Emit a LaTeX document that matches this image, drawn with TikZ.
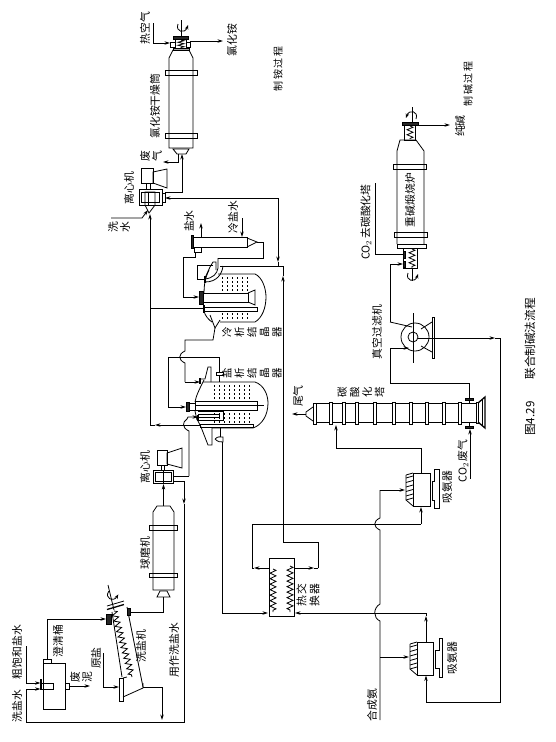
\documentclass[tikz,border=0pt]{standalone}
\usepackage{fontspec}
\setmainfont{Liberation Serif}
\newfontfamily\cjk{Noto Sans CJK SC}
\usetikzlibrary{arrows.meta,decorations.pathmorphing}
\tikzset{
  lab/.style={rotate=90,inner sep=0pt,align=center,font=\cjk\fontsize{10.8}{12}\selectfont},
  arr/.style={-{Stealth[length=5.5pt,width=3.4pt]}},
  dark/.style={fill=black!85},
  thick line/.style={line width=1.3pt},
  zz/.style={decorate,decoration={zigzag,segment length=5.5pt,amplitude=3pt}},
  liq/.style={line width=.4pt,dash pattern=on 1.6pt off 2.4pt},
  spin/.pic={\draw[line width=.8pt,-{Stealth[length=4.5pt,width=3.5pt]}] (-4,-3) .. controls (-7,5) and (3,7) .. (6,-2);}
}
\begin{document}
\begin{tikzpicture}[x=1pt,y=-1pt,line width=.8pt]
\useasboundingbox (0,0) rectangle (555,742);
% ---------- labels
\node[lab] (t1) at (17,652) {粗饱和盐水};
\node[lab] (t2) at (17,706) {洗盐水};
\node[lab] (t3) at (58,641) {澄清桶};
\node[lab,font=\cjk\fontsize{10.8}{12}\selectfont] (t4) at (81,677) {废\\泥};
\node[lab] (t5) at (96,658) {原盐};
\node[lab] (t6) at (141,646) {洗盐机};
\node[lab] (t7) at (174,650) {用作洗盐水};
\node[lab] (t8) at (145,553) {球磨机};
\node[lab] (t9) at (145,467) {离心机};
\node[lab] (t10) at (129,188) {离心机};
\node[lab] (t11) at (119,227) {洗\\水};
\node[lab] (t12) at (189,221) {盐水};
\node[lab] (t13) at (233,217) {冷盐水};
\node[lab] (t14) at (145,28) {热空气};
\node[lab] (t15) at (232,40) {氯化铵};
\node[lab] (t16) at (155,106) {氯化铵干燥筒};
\node[lab] (t17) at (151,156) {废\\气};
\node[lab,font=\cjk\fontsize{10}{11}\selectfont] (t18) at (278,69) {制\,铵\,过\,程};
\node[lab,font=\cjk\fontsize{10}{11}\selectfont] (t19) at (468,84) {制\,碱\,过\,程};
\node[lab] (t20) at (460,126) {纯碱};
\node[lab] (t21) at (410,200) {重碱煅烧炉};
\node[lab] (t22) at (366,222) {CO$_2$\,去碳酸化塔};
\node[lab] (t23) at (377,332) {真空过滤机};
\node[lab,font=\cjk\fontsize{10.5}{12.5}\selectfont] (t24) at (252,332) {冷\\析\\结\\晶\\器};
\node[lab,font=\cjk\fontsize{10.5}{12.5}\selectfont] (t25) at (252,373) {盐\\析\\结\\晶\\器};
\node[lab] (t26) at (298,396) {尾气};
\node[lab,font=\cjk\fontsize{10.5}{12.5}\selectfont] (t27) at (361,392) {碳\\酸\\化\\塔};
\node[lab] (t28) at (463,461) {CO$_2$\,废气};
\node[lab] (t29) at (447,487) {吸氨器};
\node[lab] (t30) at (452,658) {吸氨器};
\node[lab,font=\cjk\fontsize{10.8}{13}\selectfont] (t31) at (308,595) {热\,交\\换\,器};
\node[lab] (t32) at (372,705) {合成氨};
\node[lab,font=\cjk\fontsize{11.6}{13}\selectfont] (t33) at (530,367) {图4.29\hspace{22pt}联合制碱法流程};
% ---------- settling tank
\draw (43,663) rectangle (65,709);
\draw (43,659) rectangle (51,663);
\draw[thick line] (41,679) -- (41,690);
\draw (41,683) rectangle (53,689);
\draw (65,683) rectangle (69,689);
\coordinate (tankTop) at (47,659);
\coordinate (tankIn1) at (40.5,683);
\coordinate (tankIn2) at (40.5,689);
\coordinate (tankOut) at (69,686);
\coordinate (crude) at (26,646);
\coordinate (washW) at (26,722);
\draw[arr] (crude) |- (tankIn1);
\draw[arr] (washW) |- (tankIn2);
\coordinate (mudEnd) at (90,686);
\draw[arr] (tankOut) -- (mudEnd);
% ---------- salt washer
\draw[dark] (106,614) rectangle (111,624);
\draw (112,612) -- (122,677);
\draw (127,607) -- (143,687);
\draw[thick line] (107,609.5) -- (124,604.5);
\draw (107,606) -- (124,601);
\draw[dark] (127,608) rectangle (130,615);
\draw (108,585) -- (114,610);
\draw (119,678) rectangle (123,701);
\draw (123,697) -- (143,688) -- (143,683);
\draw (123,678) -- (127,677);
\draw[zz] (114,611) -- (132,677);
\pic[rotate=-13] at (112,595) {spin};
\coordinate (screwIn) at (106,619);
\coordinate (rawSalt) at (103,653);
\coordinate (washPlate) at (119,687);
\coordinate (washOut) at (143,687);
\coordinate (washDrop) at (162,720);
\coordinate (washTop) at (130,612);
\draw[arr] (tankTop) |- (screwIn);
\draw[arr] (rawSalt) |- (washPlate);
\draw[arr] (washOut) -| (washDrop);
% ---------- ball mill
\draw (153,590) -- (153,512) -- (157,506) -- (170,506) -- (174,512) -- (174,590) -- cycle;
\draw (149,525) rectangle (177,530);
\draw (149,573) rectangle (177,577);
\draw (157,597) -- (170,597) -- (167,591) -- (160,591) -- cycle;
\coordinate (millIn) at (163.5,597);
\coordinate (millOut) at (163.5,506);
\draw (washTop) -| (millIn);
% ---------- centrifuge lower
\draw (153,470) rectangle (173,483);
\draw (155,472) rectangle (171,481);
\draw (163,470) -- (163,483);
\draw (157,450) rectangle (167,465);
\draw (167,453) -- (182,448) -- (182,468) -- (167,464) -- cycle;
\draw (161,465) rectangle (164,470);
\draw[arr] (millOut) -- (163.5,484);
\coordinate (cfLout) at (173,476);
\coordinate (cfLret) at (173,481);
\coordinate (rinseM) at (184,504);
\draw[arr] (cfLret) -| (rinseM);
\draw (rinseM) |- (washW);
% ---------- salt crystallizer
\draw (203,382) -- (255,382) .. controls (264,385) and (268,395) .. (268,403) .. controls (268,415) and (262,425) .. (253,428) -- (212,428);
\draw (204,380) .. controls (199,390) and (196,396) .. (195,402);
\draw (195,411) -- (197,420);
\draw (198,421) -- (201,427) -- (208,445) -- (212,445) -- (212,428);
\draw (195,401) rectangle (257,410);
\draw[thick line] (195,405.5) -- (264,405.5);
\draw[dark] (186,402) rectangle (189,411);
\draw (189,403) rectangle (195,410);
\draw (200,424) rectangle (253,427);
\draw (198,411) -- (223,411) -- (223,420) -- (198,420);
\draw (198,414) -- (219,414) -- (219,417) -- (198,417);
\draw[thick line] (198,414.5) -- (198,421);
\draw (200,379) -- (205,379) -- (208,367) -- (211,367) -- (211,382);
\draw[thick line] (200,378) -- (200,384);
\draw (216,372) rectangle (223,375);
\draw (219,375) -- (219,382);
\draw (220,428) -- (220,437);
\draw (215,439) .. controls (218,436) and (220,437) .. (223,437) -- (223,442) .. controls (220,442) and (218,442) .. (215,439);
\foreach \x in {214,219,224,229,234,239,244,249} {
  \draw[liq] (\x,385) -- (\x,399);
  \draw[liq] (\x,413) -- (\x,423);
}
% ---------- cold crystallizer
\draw (218,274) -- (255,274) .. controls (262,277) and (266,288) .. (266,297) .. controls (266,308) and (262,318) .. (255,322) -- (220,322);
\draw (209,270) .. controls (205,278) and (204,286) .. (204,293);
\draw (204,311) .. controls (205,316) and (209,320) .. (212,322);
\draw (210,315) -- (215,328) -- (220,320);
\draw (205,278) -- (210,267) -- (213,262) -- (216,262) -- (216,270);
\draw (200,293) rectangle (248,302);
\draw (248,293) -- (255,290) -- (255,305) -- (248,302);
\draw[dark] (199,291) rectangle (203,304);
\draw (204,307) rectangle (257,311);
\draw[thick line] (204,305) -- (204,313);
\draw[thick line] (205,276) -- (205,283);
\draw (218,258) -- (218,268) .. controls (217,274) and (213,278) .. (205,279);
\draw (223,266) .. controls (222,274) and (217,282) .. (205,282);
\draw (213,265) -- (197,265) -- (197,279) -- (205,279);
\foreach \x in {222,227,232,237,242,247} {
  \draw[liq] (\x,277) -- (\x,291);
  \draw[liq] (\x,313) -- (\x,320);
}
% ---------- cooler
\draw (193,237) rectangle (247,247);
\draw[dark] (191,235) rectangle (193,248);
\draw (194,247) rectangle (201,252);
\draw (247,238) -- (257,242) -- (247,247);
\coordinate (coolerOut) at (257,242);
\coordinate (coolerIn) at (195,252);
\draw[arr] (201,237) -- (201,223);
\draw[arr] (242,218) -- (242,237);
\draw (coolerOut) -- (263,242) -- (263,258) -- (218,258);
% ---------- crystallizer links
\coordinate (coldFunnel) at (215,328);
\coordinate (hop1) at (185,340);
\coordinate (saltTop) at (219,372);
\coordinate (saltShaft) at (186,407);
\coordinate (saltFeed) at (200,382);
\coordinate (coldShaft) at (199,297);
\draw (coldFunnel) -- (213,340) -- (hop1) -- (185,351) .. controls (178,354) and (178,360) .. (185,363) -- (185,382);
\draw[arr] (185,382) -- (saltFeed);
\draw (saltTop) |- (168,357);
\draw[arr] (168,357) |- (saltShaft);
\draw[arr] (coolerIn) |- (183,257) |- (coldShaft);
\draw (cfLout) -- (189,476);
\draw[arr] (189,476) -- (189,450) -- (189,431) .. controls (182,428) and (182,422) .. (187,419) -- (188,417) -- (198,417);
% ---------- centrifuge upper
\draw (139,189) rectangle (162,205);
\draw (141,192) rectangle (159,202);
\draw (145,192) -- (155,192) -- (155,205) -- (149,213) -- (145,205) -- cycle;
\draw (148,192) -- (148,205);
\draw (162,193) rectangle (165,202);
\draw (141,168) rectangle (153,183);
\draw (153,172) -- (167,169) -- (167,188) -- (153,183) -- cycle;
\draw (146,183) rectangle (150,189);
\coordinate (cfUfeed) at (150,214);
\coordinate (cfUwash) at (148,210);
\coordinate (cfUret) at (165,198);
\coordinate (cfUout) at (165,192);
\draw[arr] (111,218) -- (142,218) -- (cfUwash);
\draw[arr] (150,425) -- (cfUfeed);
\coordinate (outA) at (200,425);
\draw[arr] (outA) -- (155,425);
\draw (155,425) -- (150,425);
\draw (150,308) -- (204,308);
\coordinate (retD) at (278,262);
\coordinate (retM) at (172,198);
\draw (278,266) -- (278,262);
\draw[arr] (278,198) -- (retD);
\draw (278,198) -- (retM);
\draw[arr] (retM) -- (cfUret);
\draw (220,266) -- (283,266);
% ---------- dryer
\draw (169,148) -- (169,58) -- (173,50) -- (189,50) -- (193,58) -- (193,148) -- cycle;
\draw (165,70) rectangle (197,75);
\draw (165,133) rectangle (197,138);
\draw (173,149) -- (189,149) -- (186,154) -- (177,154) -- cycle;
\draw (173,48) rectangle (189,50);
\draw[dark] (173,36) rectangle (188,39);
\draw (175,39) rectangle (186,48);
\draw[zz,segment length=3pt] (181,40) -- (181,48);
\draw (170,42) rectangle (175,47);
\draw (186,42) rectangle (190,47);
\draw (181,20) -- (181,36);
\pic at (182,27) {spin};
\coordinate (dryIn) at (182,154);
\coordinate (dryAir) at (170,43);
\coordinate (dryOut) at (190,41);
\coordinate (dryWaste) at (178,154);
\draw[arr] (cfUout) -| (dryIn);
\draw[arr] (dryWaste) |- (163,162);
\draw[arr] (153,23) |- (dryAir);
\draw[arr] (dryOut) -- (223,41);
% ---------- rinse line
\draw[arr] (283,542) -- (283,276);
\draw (283,276) -- (283,266);
\draw (318,568) |- (283,542);
% ---------- heat exchanger
\draw (269,558) rectangle (294,616);
\draw[zz] (273,569) -- (273,612);
\draw[zz] (290,566) -- (290,612);
\coordinate (hxTR) at (294,568);
\coordinate (hxTL) at (269,568);
\coordinate (hxBR) at (294,613);
\coordinate (hxBL) at (268,613);
\draw[arr] (hxTR) -- (314,568);
\draw (314,568) -- (318,568);
\draw[arr] (hxTL) -- (254,568);
\draw (254,568) -- (252,568) |- (421,524);
\draw[arr] (421,524) -- (421,507);
\draw[arr] (222,442) |- (hxBL);
\draw[arr] (426,613) -- (295,613);
% ---------- absorbers
\draw (413,473) rectangle (430,506);
\draw (406,475) -- (413,473) (406,475) -- (406,500) -- (413,506);
\foreach \y in {478,482.5,487,491.5,496,500} \draw (406,\y) -- (413,\y-2);
\draw (439,469) -- (439,508) -- (434,508) -- (434,500) -- (432,500) -- (432,481) -- (434,481) -- (434,469) -- cycle;
\draw (417,642) rectangle (433,675);
\draw (410,644) -- (417,642) (410,644) -- (410,669) -- (417,675);
\foreach \y in {647,651.5,656,660.5,665,669} \draw (410,\y) -- (417,\y-2);
\draw (442,638) -- (442,677) -- (439,677) -- (439,668) -- (435,668) -- (435,650) -- (439,650) -- (439,638) -- cycle;
\coordinate (absAout) at (421,473);
\coordinate (absAin) at (405,490);
\coordinate (absBin) at (409,657);
\coordinate (absBtop) at (426,642);
\coordinate (absBbot) at (426,675.5);
\coordinate (nh3) at (380,720);
\draw (nh3) -- (380,621) .. controls (373,618) and (373,608) .. (380,604) -- (380,530) .. controls (373,527) and (373,521) .. (380,518) -- (380,490);
\draw[arr] (380,490) -- (absAin);
\draw[arr] (380,657) -- (absBin);
\draw[arr] (absBtop) -- (426,616);
\draw (426,616) -- (426,613);
\draw[arr] (500,338) |- (426,702) -- (absBbot);
% ---------- carbonation tower
\draw (316,403) -- (478,403) (316,422) -- (478,422);
\draw (313,403) rectangle (316,424);
\draw (313,407) -- (306,412) -- (306,416) -- (313,421);
\foreach \x in {329,342,355,373,392,409,425,442,458} \draw[fill=white] (\x,402) rectangle (\x+3,424);
\draw[fill=white] (476,402) rectangle (478,423);
\draw[thick line] (478,403) -- (485,397) -- (485,428) -- (478,422);
\draw (482,400) -- (482,425);
\draw (469,399) -- (469,403) (469,422) -- (469,427);
\draw[dark] (465,398) rectangle (473,400);
\draw[dark] (465,426) rectangle (473,428);
\coordinate (towerTail) at (306,414);
\coordinate (towerIn) at (336,425);
\coordinate (towerGas) at (470,429);
\coordinate (towerTop) at (469,398);
\draw[arr] (towerTail) -- (292,414);
\draw[arr] (absAout) |- (336,448) -- (towerIn);
\draw[arr] (470,479) -- (towerGas);
% ---------- vacuum filter
\draw (415,337) circle[radius=14pt];
\draw (413,337) circle[radius=5pt];
\draw (413,313) -- (413,363);
\draw (432,317) rectangle (434,358);
\draw (432,322) -- (421,329) (432,352) -- (421,346);
\coordinate (filtOut) at (418,338);
\coordinate (filtIn) at (409,348);
\coordinate (filtTop) at (412,327);
\draw[arr] (filtOut) -- (495,338);
\draw (495,338) -- (500,338);
\draw[arr] (towerTop) |- (390,383) |- (filtIn);
\draw (390,322) -- (filtTop);
\coordinate (roastIn) at (403,264);
\draw[arr] (390,322) |- (roastIn);
% ---------- roaster
\draw (397,244) -- (397,151) -- (400,140) -- (416,140) -- (424,151) -- (424,244);
\draw (393,164) rectangle (426,169);
\draw (394,232) rectangle (427,237);
\draw (397,244) rectangle (426,248);
\draw (403,248) -- (403,268) -- (417,268) -- (417,248);
\draw[zz,segment length=5pt] (412,249) -- (412,268);
\draw (404,125) rectangle (415,140);
\draw[zz,segment length=5pt] (410,126) -- (410,139);
\draw[dark] (402,122) rectangle (418,125);
\draw (412,107) -- (412,122);
\pic[rotate=180] at (412,116) {spin};
\draw (412,268) -- (412,281);
\pic at (412,276) {spin};
\draw[dark] (403,251) rectangle (405,258);
\draw[dark] (403,261) rectangle (405,267);
\coordinate (co2Port) at (403,254);
\coordinate (roastOut) at (415,125);
\draw (375,183) |- (co2Port);
\draw[arr] (roastOut) -- (450,125);
\end{tikzpicture}
\end{document}
